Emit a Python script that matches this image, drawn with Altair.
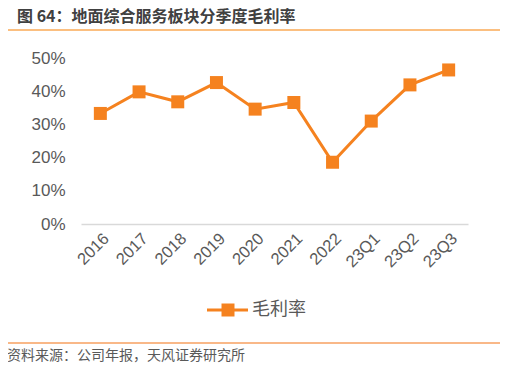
import altair as alt
import pandas as pd

categories = ["2016", "2017", "2018", "2019", "2020", "2021", "2022", "23Q1", "23Q2", "23Q3"]
gross_margin = [0.333, 0.398, 0.368, 0.426, 0.346, 0.366, 0.186, 0.310, 0.419, 0.464]
y_ticks = [0, 0.1, 0.2, 0.3, 0.4, 0.5]
series_name = "毛利率"
title_text = "图 64：地面综合服务板块分季度毛利率"
source_text = "资料来源：公司年报，天风证券研究所"

ORANGE = "#F5821F"
FONT = "Liberation Sans, Noto Sans CJK SC, sans-serif"
CJK = "Noto Sans CJK SC"

df = pd.DataFrame({"cat": categories, "v": gross_margin})
one = pd.DataFrame({"title": [title_text], "source": [source_text], "name": [series_name]})

W, H = 387, 166

x_enc = alt.X("cat:N", sort=categories, scale=alt.Scale(paddingInner=0, paddingOuter=0, align=0.5),
              axis=alt.Axis(title=None, labelAngle=315, labelFontSize=16.5, labelColor="#595959",
                            labelFont=FONT, ticks=False, domainColor="#d9d9d9", domainWidth=1.5,
                            labelPadding=6, grid=False))
y_enc = alt.Y("v:Q", scale=alt.Scale(domain=[0, 0.5], nice=False),
              axis=alt.Axis(title=None, values=y_ticks, format=".0%", labelFontSize=17,
                            labelColor="#595959", labelFont=FONT, domain=False, ticks=False,
                            grid=False, labelPadding=16))

line = alt.Chart(df).mark_line(color=ORANGE, strokeWidth=3).encode(x=x_enc, y=y_enc)
pts = alt.Chart(df).mark_square(color=ORANGE, size=169, opacity=1).encode(x=x_enc, y=y_enc)

base = alt.Chart(one)
title = base.mark_text(font=CJK, fontSize=16, fontWeight="bold",
                       color="#404040", align="left", baseline="top").encode(
    text="title:N", x=alt.value(17 - 81), y=alt.value(9 - 58))
top_rule = base.mark_rule(color="#FBBF80", strokeWidth=2).encode(
    x=alt.value(6 - 81), x2=alt.value(502 - 81), y=alt.value(30 - 58))
bot_rule = base.mark_rule(color="#F7A060", strokeWidth=1.5).encode(
    x=alt.value(6 - 81), x2=alt.value(502 - 81), y=alt.value(343 - 58))
source = base.mark_text(font=CJK, fontSize=14, color="#595959", align="left",
                        baseline="middle").encode(
    text="source:N", x=alt.value(7 - 81), y=alt.value(356 - 58))

leg_line = base.mark_rule(color=ORANGE, strokeWidth=3).encode(
    x=alt.value(207 - 81), x2=alt.value(248 - 81), y=alt.value(310 - 58))
leg_sq = base.mark_square(color=ORANGE, size=169, opacity=1).encode(
    x=alt.value(228 - 81), y=alt.value(310 - 58))
leg_txt = base.mark_text(font=CJK, fontSize=18, color="#595959",
                         align="left", baseline="middle").encode(
    text="name:N", x=alt.value(252 - 81), y=alt.value(310 - 58))

chart = alt.layer(line, pts, title, top_rule, bot_rule, source, leg_line, leg_sq, leg_txt).properties(
    width=W, height=H,
    autosize=alt.AutoSizeParams(type="none"),
    padding={"left": 73, "top": 50, "right": 508 - 16 - 73 - W, "bottom": 371 - 16 - 50 - H},
    background="white",
).configure_view(stroke=None)

chart.save("out.html", embed_options={"renderer": "svg", "actions": False})
